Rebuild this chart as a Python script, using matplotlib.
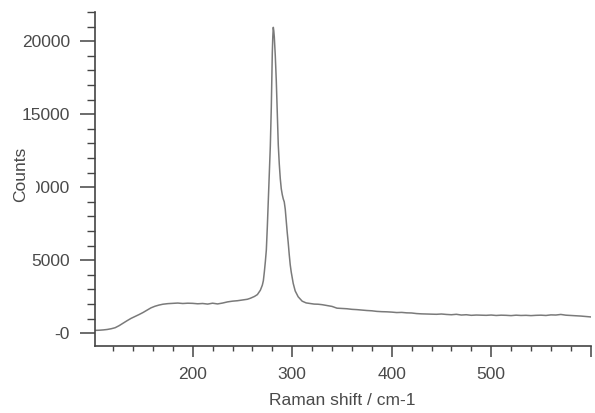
import matplotlib
matplotlib.use("Agg")
import matplotlib.pyplot as plt
from matplotlib.ticker import FixedLocator, MultipleLocator, FixedFormatter

plt.rcParams['font.family'] = ['Liberation Sans', 'DejaVu Sans']

shift = [102, 106, 110, 114, 118, 122, 126, 130, 134, 138, 142, 146, 150, 154, 158,
         162, 166, 170, 175, 180, 185, 190, 195, 200, 205, 210, 215, 220, 225, 230,
         235, 240, 245, 250, 255, 258, 262, 265, 268, 270, 271, 272, 273, 274, 275,
         276, 277, 278, 279, 279.5, 280, 280.5, 281, 281.5, 282, 283, 284, 285, 286,
         287, 288, 289, 290, 291, 292, 293, 294, 295, 296, 297, 298, 299, 300, 301,
         303, 306, 310, 314, 318, 322, 326, 330, 335, 340, 345, 350, 355, 360, 365,
         370, 375, 380, 385, 390, 395, 400, 405, 410, 415, 420, 425, 430, 435, 440,
         445, 450, 455, 460, 465, 470, 475, 480, 485, 490, 495, 500, 505, 510, 515,
         520, 525, 530, 535, 540, 545, 550, 555, 560, 565, 570, 575, 580, 585, 590,
         595, 600]
counts = [200, 210, 230, 260, 310, 380, 520, 690, 860, 1020, 1150, 1280, 1420, 1580, 1740,
          1850, 1930, 1990, 2030, 2050, 2070, 2040, 2060, 2050, 2020, 2040, 2000, 2060, 2010, 2070,
          2150, 2200, 2230, 2280, 2330, 2400, 2520, 2650, 2950, 3300, 3600, 4200, 4900, 5700, 7300,
          9100, 11000, 12800, 15500, 17500, 19200, 20300, 20950, 20700, 20300, 19000, 17300, 15000, 12900,
          11600, 10600, 9900, 9500, 9200, 9000, 8500, 7700, 6900, 6200, 5400, 4700, 4200, 3800, 3420,
          2900, 2500, 2200, 2080, 2040, 2000, 1990, 1960, 1900, 1840, 1720, 1700, 1680, 1640, 1620,
          1590, 1560, 1540, 1500, 1480, 1470, 1450, 1420, 1430, 1400, 1390, 1350, 1330, 1320, 1310,
          1300, 1320, 1290, 1270, 1300, 1250, 1270, 1230, 1250, 1240, 1230, 1250, 1220, 1240, 1230,
          1210, 1240, 1220, 1230, 1210, 1230, 1240, 1220, 1260, 1250, 1290, 1240, 1220, 1200, 1180,
          1150, 1120]

x_major = [200, 300, 400, 500, 600]
x_labels = ['200', '300', '400', '500', '']
y_major = [0, 5000, 10000, 15000, 20000]
y_labels = ['-0', '5000', '10000', '15000', '20000']

W, H = 595, 413
fig = plt.figure(figsize=(W / 100, H / 100), dpi=100)
ax = fig.add_axes([94.5 / W, 1 - 345.7 / H, (590.7 - 94.5) / W, (345.7 - 12) / H])

ax.plot(shift, counts, color='#7a7a7a', lw=1.1)

ax.set_xlim(101.3, 600)
ax.set_ylim(-850, 22000)

for s in ['top', 'right']:
    ax.spines[s].set_visible(False)
for s in ['left', 'bottom']:
    ax.spines[s].set_color('#444444')
    ax.spines[s].set_linewidth(1.2)

ax.xaxis.set_major_locator(FixedLocator(x_major))
ax.xaxis.set_major_formatter(FixedFormatter(x_labels))
ax.xaxis.set_minor_locator(MultipleLocator(20))
ax.yaxis.set_major_locator(FixedLocator(y_major))
ax.yaxis.set_major_formatter(FixedFormatter(y_labels))
ax.yaxis.set_minor_locator(MultipleLocator(1000))

tc = '#444444'
ax.tick_params(axis='x', which='major', length=8, width=1.1, color=tc, pad=7,
               labelsize=12.5, labelcolor='#4a4a4a')
ax.tick_params(axis='x', which='minor', length=3.6, width=1.0, color=tc)
ax.tick_params(axis='y', which='major', length=10.8, width=1.1, color=tc, pad=7,
               labelsize=12.5, labelcolor='#4a4a4a')
ax.tick_params(axis='y', which='minor', length=5.8, width=1.0, color=tc)

ax.set_xlabel('Raman shift / cm-1', fontsize=12.5, color='#4a4a4a', labelpad=8)

fig.text(21 / W, 1 - 174 / H, 'Counts', rotation=90, ha='center', va='center',
         fontsize=12.5, color='#4a4a4a',
         bbox=dict(facecolor='white', edgecolor='none', pad=5.5))

fig.savefig('out.png', dpi=100)
